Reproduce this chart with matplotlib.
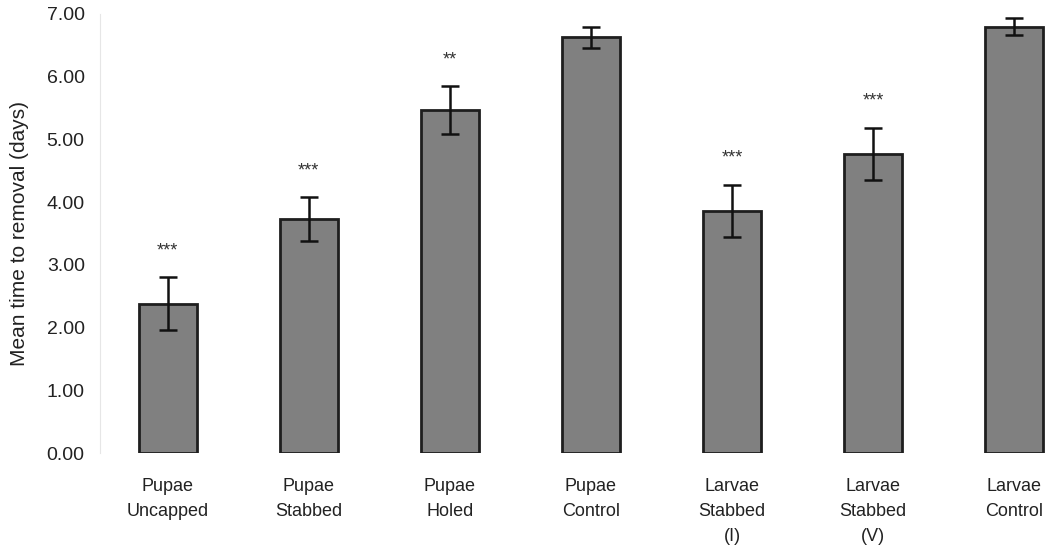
import numpy as np
import matplotlib
matplotlib.use("Agg")
import matplotlib.pyplot as plt
from matplotlib import font_manager

# Datos
categories = ["Pupae\nUncapped", "Pupae\nStabbed", "Pupae\nHoled", "Pupae\nControl",
              "Larvae\nStabbed\n(I)", "Larvae\nStabbed\n(V)", "Larvae\nControl"]
means = [2.38, 3.73, 5.47, 6.63, 3.86, 4.77, 6.80]
errors = [0.42, 0.35, 0.38, 0.17, 0.42, 0.42, 0.13]
stars = ["***", "***", "**", "", "***", "***", ""]
yticks = [0, 1, 2, 3, 4, 5, 6, 7]

plt.rcParams["font.family"] = ["Liberation Sans", "DejaVu Sans"]

# fuente estrecha para las categorías, si existe
try:
    font_manager.findfont("Liberation Sans Narrow", fallback_to_default=False)
    narrow = "Liberation Sans Narrow"
    cat_size = 15.5
except Exception:
    narrow = "Liberation Sans"
    cat_size = 13

fig = plt.figure(figsize=(10.58, 5.59), dpi=100)
ax = fig.add_axes([100 / 1058, 106 / 559, 958 / 1058, 439 / 559])

x = np.arange(len(categories))
ax.bar(x, means, width=0.41, color="#808080", edgecolor="#1e1e1e", linewidth=2)
ax.errorbar(x, means, yerr=errors, fmt="none", ecolor="#111111",
            elinewidth=1.8, capsize=6.5, capthick=1.8)

for xi, m, e, s in zip(x, means, errors, stars):
    if s:
        ax.text(xi, m + e + 0.42, s, ha="center", va="center",
                fontsize=13, color="#333333")

ax.set_xlim(-0.48, 6.31)
ax.set_ylim(0, 7)
ax.set_yticks(yticks)
ax.set_yticklabels([f"{v:.2f}" for v in yticks], fontsize=14, color="#222222")
ax.set_xticks(x)
ax.set_xticklabels(categories, fontsize=cat_size, family=narrow,
                   color="#222222", linespacing=1.6)
ax.tick_params(axis="both", length=0)
ax.tick_params(axis="y", pad=11)
ax.tick_params(axis="x", pad=18)
for sp in ["top", "right", "bottom"]:
    ax.spines[sp].set_visible(False)
ax.spines["left"].set_color("#e6e6e6")
ax.set_ylabel("Mean time to removal (days)", fontsize=15, color="#222222", labelpad=13)

fig.savefig("out.png", dpi=100)
